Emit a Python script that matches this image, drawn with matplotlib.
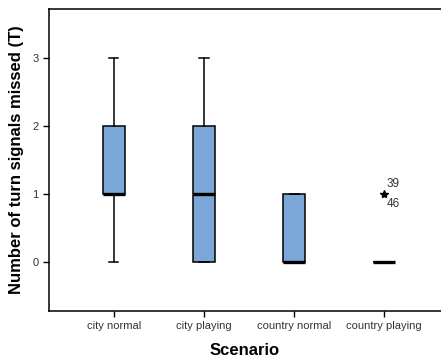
import matplotlib
matplotlib.use("Agg")
import matplotlib.pyplot as plt

categories = ["city normal", "city playing", "country normal", "country playing"]
whislo = [0, 0, 0, 0]
q1 = [1, 0, 0, 0]
med = [1, 1, 0, 0]
q3 = [2, 2, 1, 0]
whishi = [3, 3, 1, 0]
fliers = [[], [], [], [1]]
outlier_labels = ["39", "46"]
yticks = [0, 1, 2, 3]

plt.rcParams['font.family'] = ['Liberation Sans', 'DejaVu Sans']

fig = plt.figure(figsize=(4.41, 3.62), dpi=100)
ax = fig.add_axes([49/441, 1 - 311/362, 1 - 49/441, 302/362])

stats = []
for i, c in enumerate(categories):
    stats.append(dict(label=c, whislo=whislo[i], q1=q1[i], med=med[i],
                      q3=q3[i], whishi=whishi[i], fliers=fliers[i]))

pos = list(range(1, len(categories) + 1))
ax.bxp(stats, positions=pos, widths=0.25, patch_artist=True, showfliers=False,
       boxprops=dict(facecolor='#7aa7d8', edgecolor='black', linewidth=1.1),
       medianprops=dict(color='black', linewidth=2.4, solid_capstyle='butt'),
       whiskerprops=dict(color='black', linewidth=1.1),
       capprops=dict(color='black', linewidth=1.1),
       capwidths=0.1)

# outliers as stars
for i, fl in enumerate(fliers):
    for v in fl:
        ax.plot(pos[i], v, marker='*', color='black', markersize=6, linestyle='none')
        ax.text(pos[i] + 0.03, v + 0.15, outlier_labels[0], fontsize=8.5,
                color='#333333', ha='left', va='center')
        ax.text(pos[i] + 0.03, v - 0.15, outlier_labels[1], fontsize=8.5,
                color='#333333', ha='left', va='center')

ax.set_xlim(0.278, 4.633)
ax.set_ylim(-0.72, 3.72)
ax.set_yticks(yticks)
ax.set_yticklabels([str(t) for t in yticks])
ax.set_xticks(pos)
ax.set_xticklabels(categories)
ax.tick_params(axis='both', labelsize=8, colors='black', labelcolor='#333333',
               length=4, width=1, direction='out')
ax.spines['right'].set_visible(False)
for s in ['left', 'top', 'bottom']:
    ax.spines[s].set_linewidth(1.1)

ax.set_ylabel("Number of turn signals missed (T)", fontsize=12, fontweight='bold', labelpad=6)
ax.set_xlabel("Scenario", fontsize=12, fontweight='bold', labelpad=8)

fig.savefig("out.png", dpi=100)
